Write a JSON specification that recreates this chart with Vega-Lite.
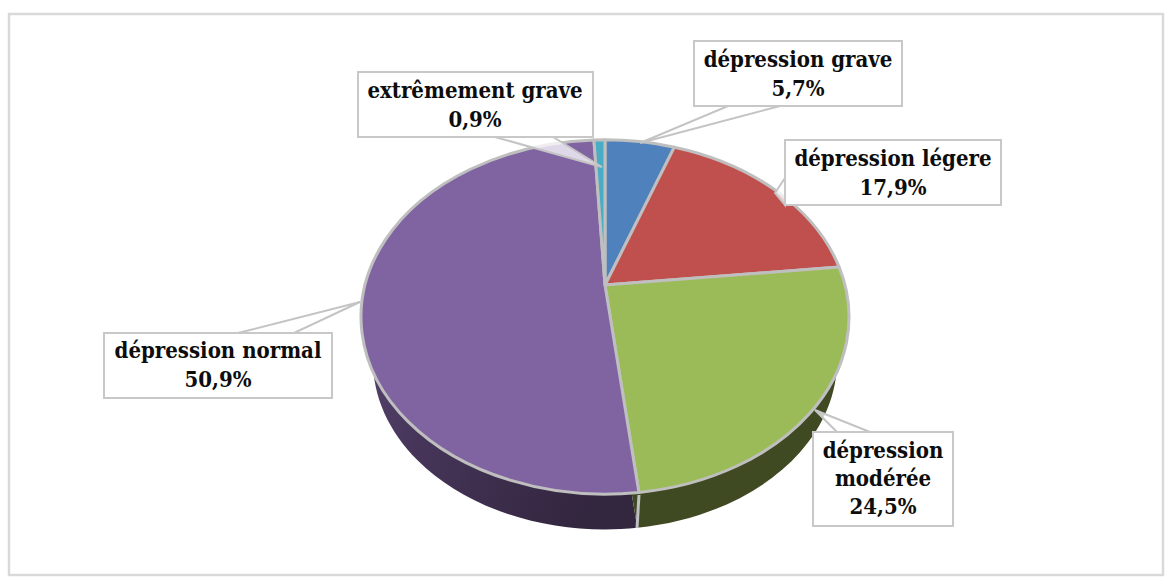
{
"$schema":"https://vega.github.io/schema/vega-lite/v6.json",
"width":1171,"height":583,"padding":0,"autosize":{"type":"none"},"background":"white",
"config":{"view":{"stroke":null}},
"data":{"values":[
{"order":1,"category":"dépression grave","value":5.7,"label":"dépression grave\n5,7%"},
{"order":2,"category":"dépression légere","value":17.9,"label":"dépression légere\n17,9%"},
{"order":3,"category":"dépression modérée","value":24.5,"label":"dépression\nmodérée\n24,5%"},
{"order":4,"category":"dépression normal","value":50.9,"label":"dépression normal\n50,9%"},
{"order":5,"category":"extrêmement grave","value":0.9,"label":"extrêmement grave\n0,9%"}
]},
"transform":[
{"joinaggregate":[{"op":"sum","field":"value","as":"total"}]},
{"window":[{"op":"sum","field":"value","as":"v1"}],"sort":[{"field":"order","order":"ascending"}]},
{"calculate":"2*PI*(datum.v1-datum.value)/datum.total","as":"t0"},
{"calculate":"2*PI*datum.v1/datum.total","as":"t1"},
{"calculate":"datum.t0-0.2*sin(datum.t0)","as":"a0"},
{"calculate":"datum.t1-0.2*sin(datum.t1)","as":"a1"},
{"calculate":"'M0,-0.131L'+round(sin(datum.a0)*10000)/10000+','+round(-7260*cos(datum.a0))/10000+'A1,0.726,0,'+(datum.a1-datum.a0>PI?1:0)+',1,'+round(sin(datum.a1)*10000)/10000+','+round(-7260*cos(datum.a1))/10000+'Z'","as":"wedge"}
],
"layer":[
{"transform":[{"filter":"datum.order==1"}],"mark":{"type":"rect","fill":null,"stroke":"#d9d9d9","strokeWidth":2.5},
 "encoding":{"x":{"datum":9,"type":"quantitative","scale":{"domain":[0,1171]},"axis":null},"x2":{"datum":1163},"y":{"datum":14,"type":"quantitative","scale":{"domain":[583,0]},"axis":null},"y2":{"datum":575}}},
{"transform":[{"filter":"datum.order==4"}],"mark":{"type":"point","filled":true,"opacity":1,"size":215296,"fill":{"gradient":"linear","x1":0,"y1":0,"x2":1,"y2":0.6,"stops":[{"offset":0,"color":"#5f4b7c"},{"offset":0.45,"color":"#463559"},{"offset":1,"color":"#33263f"}]}},
 "encoding":{"x":{"datum":605,"type":"quantitative","scale":{"domain":[0,1171]},"axis":null},"y":{"datum":361,"type":"quantitative","scale":{"domain":[583,0]},"axis":null},"shape":{"field":"wedge","type":"nominal","scale":null,"legend":null}}},
{"transform":[{"filter":"datum.order==3"}],"mark":{"type":"point","filled":true,"opacity":1,"size":215296,"fill":"#3f4a22"},
 "encoding":{"x":{"datum":605,"type":"quantitative","scale":{"domain":[0,1171]},"axis":null},"y":{"datum":361,"type":"quantitative","scale":{"domain":[583,0]},"axis":null},"shape":{"field":"wedge","type":"nominal","scale":null,"legend":null}}},
{"transform":[{"filter":"datum.order==3"}],"mark":{"type":"rule","stroke":"#bfbfbf","strokeWidth":3},
 "encoding":{"x":{"datum":639,"type":"quantitative","scale":{"domain":[0,1171]},"axis":null},"x2":{"datum":637},"y":{"datum":495,"type":"quantitative","scale":{"domain":[583,0]},"axis":null},"y2":{"datum":528}}},
{"mark":{"type":"point","filled":true,"opacity":1,"size":238144,"stroke":"#bfbfbf","strokeWidth":3,"strokeJoin":"round"},
 "encoding":{"x":{"datum":605,"type":"quantitative","scale":{"domain":[0,1171]},"axis":null},"y":{"datum":317,"type":"quantitative","scale":{"domain":[583,0]},"axis":null},
 "shape":{"field":"wedge","type":"nominal","scale":null,"legend":null},
 "color":{"field":"category","type":"nominal","legend":null,"scale":{"domain":["dépression grave","dépression légere","dépression modérée","dépression normal","extrêmement grave"],"range":["#4f81bd","#c0504d","#9bbb59","#8064a2","#4bacc6"]}}}},

{"transform":[{"filter":"datum.order==1"}],"mark":{"type":"point","filled":true,"opacity":1,"fill":"white","fillOpacity":0.75,"stroke":"#c4c4c4","strokeWidth":2,"size":4,"shape":"M0,0L88,-37L140,-37Z"},
 "encoding":{"x":{"datum":640,"type":"quantitative","scale":{"domain":[0,1171]},"axis":null},"y":{"datum":143,"type":"quantitative","scale":{"domain":[583,0]},"axis":null}}},
{"transform":[{"filter":"datum.order==2"}],"mark":{"type":"point","filled":true,"opacity":1,"fill":"white","fillOpacity":0.75,"stroke":"#c4c4c4","strokeWidth":2,"size":4,"shape":"M0,0L10,-15L10,12Z"},
 "encoding":{"x":{"datum":775,"type":"quantitative","scale":{"domain":[0,1171]},"axis":null},"y":{"datum":193,"type":"quantitative","scale":{"domain":[583,0]},"axis":null}}},
{"transform":[{"filter":"datum.order==3"}],"mark":{"type":"point","filled":true,"opacity":1,"fill":"white","fillOpacity":0.75,"stroke":"#c4c4c4","strokeWidth":2,"size":4,"shape":"M0,0L22,22L55,22Z"},
 "encoding":{"x":{"datum":815,"type":"quantitative","scale":{"domain":[0,1171]},"axis":null},"y":{"datum":410,"type":"quantitative","scale":{"domain":[583,0]},"axis":null}}},
{"transform":[{"filter":"datum.order==4"}],"mark":{"type":"point","filled":true,"opacity":1,"fill":"white","fillOpacity":0.75,"stroke":"#c4c4c4","strokeWidth":2,"size":4,"shape":"M0,0L-122,31L-66,31Z"},
 "encoding":{"x":{"datum":360,"type":"quantitative","scale":{"domain":[0,1171]},"axis":null},"y":{"datum":302,"type":"quantitative","scale":{"domain":[583,0]},"axis":null}}},
{"transform":[{"filter":"datum.order==5"}],"mark":{"type":"point","filled":true,"opacity":1,"fill":"white","fillOpacity":0.75,"stroke":"#c4c4c4","strokeWidth":2,"size":4,"shape":"M0,0L-107,-30L-49,-30Z"},
 "encoding":{"x":{"datum":602,"type":"quantitative","scale":{"domain":[0,1171]},"axis":null},"y":{"datum":167,"type":"quantitative","scale":{"domain":[583,0]},"axis":null}}},

{"transform":[{"filter":"datum.order==1"}],"mark":{"type":"rect","fill":"white","stroke":"#c8c8c8","strokeWidth":2},
 "encoding":{"x":{"datum":694,"type":"quantitative","scale":{"domain":[0,1171]},"axis":null},"x2":{"datum":902},"y":{"datum":41,"type":"quantitative","scale":{"domain":[583,0]},"axis":null},"y2":{"datum":106}}},
{"transform":[{"filter":"datum.order==2"}],"mark":{"type":"rect","fill":"white","stroke":"#c8c8c8","strokeWidth":2},
 "encoding":{"x":{"datum":785,"type":"quantitative","scale":{"domain":[0,1171]},"axis":null},"x2":{"datum":1001},"y":{"datum":140,"type":"quantitative","scale":{"domain":[583,0]},"axis":null},"y2":{"datum":205}}},
{"transform":[{"filter":"datum.order==3"}],"mark":{"type":"rect","fill":"white","stroke":"#c8c8c8","strokeWidth":2},
 "encoding":{"x":{"datum":813,"type":"quantitative","scale":{"domain":[0,1171]},"axis":null},"x2":{"datum":953},"y":{"datum":432,"type":"quantitative","scale":{"domain":[583,0]},"axis":null},"y2":{"datum":526}}},
{"transform":[{"filter":"datum.order==4"}],"mark":{"type":"rect","fill":"white","stroke":"#c8c8c8","strokeWidth":2},
 "encoding":{"x":{"datum":104,"type":"quantitative","scale":{"domain":[0,1171]},"axis":null},"x2":{"datum":332},"y":{"datum":333,"type":"quantitative","scale":{"domain":[583,0]},"axis":null},"y2":{"datum":398}}},
{"transform":[{"filter":"datum.order==5"}],"mark":{"type":"rect","fill":"white","stroke":"#c8c8c8","strokeWidth":2},
 "encoding":{"x":{"datum":358,"type":"quantitative","scale":{"domain":[0,1171]},"axis":null},"x2":{"datum":593},"y":{"datum":72,"type":"quantitative","scale":{"domain":[583,0]},"axis":null},"y2":{"datum":137}}},

{"transform":[{"filter":"datum.order==1"}],"mark":{"type":"text","font":"DejaVu Serif Condensed","fontWeight":"bold","fontSize":22,"lineHeight":29,"lineBreak":"\n","color":"#0d0d0d","align":"center","baseline":"middle"},
 "encoding":{"x":{"datum":798,"type":"quantitative","scale":{"domain":[0,1171]},"axis":null},"y":{"datum":60,"type":"quantitative","scale":{"domain":[583,0]},"axis":null},"text":{"field":"label"}}},
{"transform":[{"filter":"datum.order==2"}],"mark":{"type":"text","font":"DejaVu Serif Condensed","fontWeight":"bold","fontSize":22,"lineHeight":29,"lineBreak":"\n","color":"#0d0d0d","align":"center","baseline":"middle"},
 "encoding":{"x":{"datum":893,"type":"quantitative","scale":{"domain":[0,1171]},"axis":null},"y":{"datum":159,"type":"quantitative","scale":{"domain":[583,0]},"axis":null},"text":{"field":"label"}}},
{"transform":[{"filter":"datum.order==3"}],"mark":{"type":"text","font":"DejaVu Serif Condensed","fontWeight":"bold","fontSize":22,"lineHeight":28,"lineBreak":"\n","color":"#0d0d0d","align":"center","baseline":"middle"},
 "encoding":{"x":{"datum":883,"type":"quantitative","scale":{"domain":[0,1171]},"axis":null},"y":{"datum":451,"type":"quantitative","scale":{"domain":[583,0]},"axis":null},"text":{"field":"label"}}},
{"transform":[{"filter":"datum.order==4"}],"mark":{"type":"text","font":"DejaVu Serif Condensed","fontWeight":"bold","fontSize":22,"lineHeight":29,"lineBreak":"\n","color":"#0d0d0d","align":"center","baseline":"middle"},
 "encoding":{"x":{"datum":218,"type":"quantitative","scale":{"domain":[0,1171]},"axis":null},"y":{"datum":351,"type":"quantitative","scale":{"domain":[583,0]},"axis":null},"text":{"field":"label"}}},
{"transform":[{"filter":"datum.order==5"}],"mark":{"type":"text","font":"DejaVu Serif Condensed","fontWeight":"bold","fontSize":22,"lineHeight":29,"lineBreak":"\n","color":"#0d0d0d","align":"center","baseline":"middle"},
 "encoding":{"x":{"datum":475,"type":"quantitative","scale":{"domain":[0,1171]},"axis":null},"y":{"datum":91,"type":"quantitative","scale":{"domain":[583,0]},"axis":null},"text":{"field":"label"}}}
]
}
